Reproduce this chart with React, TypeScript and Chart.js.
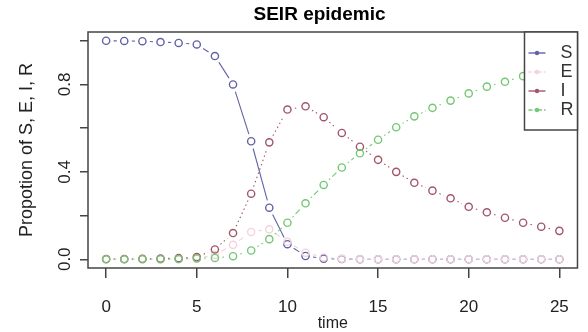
import React, { useEffect, useRef } from 'react';
import { Chart, registerables } from 'chart.js';

Chart.register(...registerables);

// ---- data ----
const times = [0, 1, 2, 3, 4, 5, 6, 7, 8, 9, 10, 11, 12, 13, 14, 15, 16, 17, 18, 19, 20, 21, 22, 23, 24, 25];
const S = [1.0, 0.999, 0.998, 0.994, 0.99, 0.983, 0.93, 0.8, 0.54, 0.236, 0.069, 0.015, 0.003, 0.001, 0, 0, 0, 0, 0, 0, 0, 0, 0, 0, 0, 0];
const E = [0, 0, 0, 0, 0.001, 0.003, 0.02, 0.066, 0.125, 0.137, 0.08, 0.03, 0.008, 0.002, 0, 0, 0, 0, 0, 0, 0, 0, 0, 0, 0, 0];
const I = [0.001, 0.001, 0.002, 0.003, 0.005, 0.01, 0.045, 0.12, 0.3, 0.535, 0.685, 0.7, 0.65, 0.578, 0.515, 0.455, 0.4, 0.35, 0.314, 0.279, 0.24, 0.215, 0.19, 0.167, 0.149, 0.13];
const R = [0, 0, 0, 0, 0.001, 0.004, 0.006, 0.014, 0.04, 0.092, 0.167, 0.256, 0.34, 0.42, 0.485, 0.547, 0.604, 0.654, 0.693, 0.726, 0.759, 0.79, 0.812, 0.838, 0.855, 0.872];
const seriesNames = ['S', 'E', 'I', 'R'];
const xTickLabels = ['0', '5', '10', '15', '20', '25'];
const yTickLabels = ['0.0', '', '0.4', '', '0.8', ''];
const titleText = 'SEIR epidemic';
const xTitle = 'time';
const yTitle = 'Propotion of S, E, I, R';

// ---- styles ----
const colors = ['#6262a6', '#f3d3db', '#a3566a', '#74c874'];
const linePatterns: number[][] = [[], [5, 4], [1.5, 3], [1.5, 3, 6, 3]];
const legendPatterns: number[][] = [[], [3, 2], [], [4, 2, 1.5, 2]];
const GAP = 7.5;

function gappedDash(pattern: number[], gap: number) {
  return (ctx: any) => {
    const dx = ctx.p1.x - ctx.p0.x;
    const dy = ctx.p1.y - ctx.p0.y;
    const len = Math.hypot(dx, dy);
    const avail = len - 2 * gap;
    const uniq = 10000 + ctx.p0DataIndex;
    if (avail <= 0.5) return [0, uniq];
    const out: number[] = [0, gap];
    if (pattern.length === 0) {
      out.push(avail, uniq);
      return out;
    }
    let rem = avail;
    let k = 0;
    while (rem > 0.01) {
      const seg = Math.min(pattern[k % pattern.length], rem);
      out.push(seg);
      rem -= seg;
      k++;
    }
    if (k % 2 === 1) out.push(uniq);
    else out.push(0, uniq);
    return out;
  };
}

const framePlugin = {
  id: 'rFrameLegend',
  afterDatasetsDraw(chart: any) {
    const { ctx, chartArea } = chart;
    ctx.save();
    // plot box
    ctx.strokeStyle = '#444';
    ctx.lineWidth = 1.5;
    ctx.setLineDash([]);
    ctx.strokeRect(chartArea.left, chartArea.top, chartArea.right - chartArea.left, chartArea.bottom - chartArea.top);
    // legend
    const w = 53;
    const h = 98;
    const x0 = chartArea.right - w;
    const y0 = chartArea.top;
    ctx.fillStyle = '#ffffff';
    ctx.fillRect(x0, y0, w, h);
    ctx.strokeRect(x0, y0, w, h);
    chart.data.datasets.forEach((ds: any, i: number) => {
      const cy = y0 + 21 + i * 19;
      ctx.strokeStyle = ds.borderColor;
      ctx.lineWidth = 1.4;
      ctx.setLineDash(legendPatterns[i]);
      ctx.beginPath();
      ctx.moveTo(x0 + 4, cy);
      ctx.lineTo(x0 + 21, cy);
      ctx.stroke();
      ctx.setLineDash([]);
      ctx.fillStyle = ds.borderColor;
      ctx.beginPath();
      ctx.arc(x0 + 12.5, cy, 2.2, 0, Math.PI * 2);
      ctx.fill();
      ctx.fillStyle = '#333';
      ctx.font = "18px 'Liberation Sans', Arial, sans-serif";
      ctx.textAlign = 'left';
      ctx.textBaseline = 'middle';
      ctx.fillText(ds.label, x0 + 36, cy);
    });
    ctx.restore();
  },
};

export default function App() {
  const canvasRef = useRef<HTMLCanvasElement | null>(null);

  useEffect(() => {
    if (!canvasRef.current) return;
    Chart.defaults.font.family = "'Liberation Sans', Arial, sans-serif";
    const series = [S, E, I, R];
    const datasets = series.map((vals, i) => ({
      label: seriesNames[i],
      data: times.map((t, k) => ({ x: t, y: vals[k] })),
      borderColor: colors[i],
      borderWidth: 1.1,
      borderDash: [],
      pointRadius: 3.6,
      pointHoverRadius: 3.6,
      pointBorderWidth: 1.4,
      pointBorderColor: colors[i],
      pointBackgroundColor: 'rgba(255,255,255,0)',
      tension: 0,
      fill: false,
      order: 4 - i,
      segment: { borderDash: gappedDash(linePatterns[i], GAP) },
    }));

    const chart = new Chart(canvasRef.current, {
      type: 'line',
      data: { datasets },
      plugins: [framePlugin],
      options: {
        animation: false,
        responsive: false,
        maintainAspectRatio: false,
        devicePixelRatio: 1,
        layout: { padding: { left: 54, right: 3, top: 0, bottom: 0 } },
        plugins: {
          legend: { display: false },
          tooltip: { enabled: false },
          title: {
            display: true,
            text: titleText,
            color: '#000',
            font: { size: 19, weight: 'bold' },
            padding: { top: 3.6, bottom: 5.6 },
          },
        },
        scales: {
          x: {
            type: 'linear',
            min: -1,
            max: 26,
            afterFit: (scale: any) => {
              scale.height = 64;
            },
            border: { display: false },
            grid: { display: true, drawOnChartArea: false, drawTicks: true, tickLength: 10, color: '#444', lineWidth: 1.5 },
            ticks: {
              stepSize: 5,
              includeBounds: false,
              autoSkip: false,
              maxRotation: 0,
              padding: 19,
              color: '#222',
              font: { size: 17 },
              callback: (_v: any, idx: number) => xTickLabels[idx] ?? '',
            },
            title: {
              display: true,
              text: xTitle,
              color: '#222',
              font: { size: 16, lineHeight: 1 },
              padding: { top: 0, bottom: 0 },
            },
          },
          y: {
            type: 'linear',
            min: -0.04,
            max: 1.04,
            afterFit: (scale: any) => {
              scale.width = 34;
            },
            border: { display: false },
            grid: { display: true, drawOnChartArea: false, drawTicks: true, tickLength: 8, color: '#444', lineWidth: 1.5 },
            ticks: {
              stepSize: 0.2,
              includeBounds: false,
              autoSkip: false,
              minRotation: 90,
              maxRotation: 90,
              crossAlign: 'center',
              padding: 3,
              color: '#222',
              font: { size: 17 },
              callback: (_v: any, idx: number) => yTickLabels[idx] ?? '',
            },
            title: {
              display: true,
              text: yTitle,
              color: '#222',
              font: { size: 18, lineHeight: 1 },
              padding: { top: -36, bottom: 0 },
            },
          },
        },
      } as any,
    });
    return () => chart.destroy();
  }, []);

  return (
    <div style={{ position: 'fixed', left: 0, top: 0, width: 588, height: 332, background: '#fff' }}>
      <canvas ref={canvasRef} width={588} height={332} style={{ display: 'block' }} />
    </div>
  );
}
